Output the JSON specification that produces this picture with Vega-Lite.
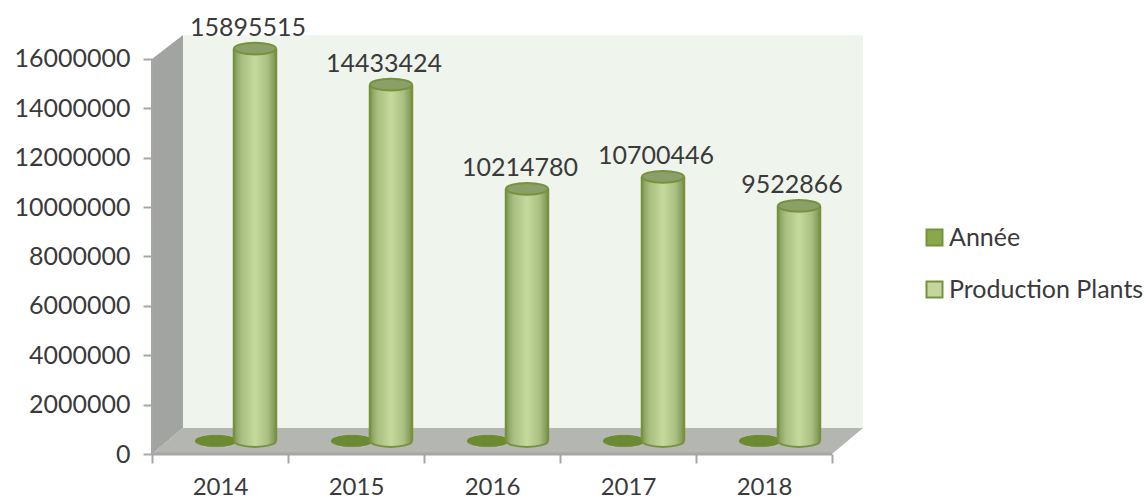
{
  "$schema": "https://vega.github.io/schema/vega-lite/v6.json",
  "width": 711,
  "height": 419,
  "autosize": "none",
  "padding": {"left": 152, "top": 35, "right": 283, "bottom": 45},
  "background": "white",
  "config": {
    "view": {"stroke": null},
    "font": "Lato",
    "scale": {"continuousPadding": 0},
    "axis": {"grid": false, "title": null, "labelFont": "Lato", "labelFontSize": 25, "labelColor": "#3a3a3a", "tickColor": "#a6a6a6", "tickWidth": 2, "tickSize": 9, "domain": false}
  },
  "datasets": {
    "production": [
      {"year": 2014, "series": "Année", "value": 2014},
      {"year": 2015, "series": "Année", "value": 2015},
      {"year": 2016, "series": "Année", "value": 2016},
      {"year": 2017, "series": "Année", "value": 2017},
      {"year": 2018, "series": "Année", "value": 2018},
      {"year": 2014, "series": "Production Plants", "value": 15895515},
      {"year": 2015, "series": "Production Plants", "value": 14433424},
      {"year": 2016, "series": "Production Plants", "value": 10214780},
      {"year": 2017, "series": "Production Plants", "value": 10700446},
      {"year": 2018, "series": "Production Plants", "value": 9522866}
    ],
    "backWall": [
      {"year": 2013.728, "value": 1053000, "value2": 16970000},
      {"year": 2018.728, "value": 1053000, "value2": 16970000}
    ],
    "sideWall": [
      {"year": 2013.5, "value": 0, "value2": 16000000},
      {"year": 2013.728, "value": 1053000, "value2": 16970000}
    ],
    "floor": [
      {"year": 2013.5, "value": 0, "value2": 0},
      {"year": 2013.728, "value": 0, "value2": 1053000},
      {"year": 2018.5, "value": 0, "value2": 1053000},
      {"year": 2018.728, "value": 1053000, "value2": 1053000}
    ]
  },
  "encoding": {
    "x": {"field": "year", "type": "quantitative", "axis": null, "scale": {"domain": [2013.5, 2018.728], "nice": false, "zero": false}},
    "y": {"field": "value", "type": "quantitative", "axis": null, "stack": null, "scale": {"domain": [0, 16970000], "nice": false, "zero": false}}
  },
  "layer": [
    {
      "data": {"name": "backWall"},
      "mark": {"type": "area", "color": "#eff4ec", "clip": false},
      "encoding": {"y2": {"field": "value2"}}
    },
    {
      "data": {"name": "sideWall"},
      "mark": {"type": "area", "color": "#a2a4a2"},
      "encoding": {"y2": {"field": "value2"}}
    },
    {
      "data": {"name": "floor"},
      "mark": {"type": "area", "color": "#b4b6b1"},
      "encoding": {"y2": {"field": "value2"}}
    },
    {
      "description": "Front edge of the floor, carrying the category ticks at band boundaries",
      "data": {"values": [{"year": 2013.5, "end": 2018.5, "value": 0}]},
      "mark": {"type": "rule", "color": "#a6a6a6", "strokeWidth": 3},
      "encoding": {
        "x": {"field": "year", "type": "quantitative", "scale": {"domain": [2013.5, 2018.728], "nice": false, "zero": false},
          "axis": {"values": [2013.5, 2014.5, 2015.5, 2016.5, 2017.5, 2018.5], "labels": false, "orient": "bottom"}},
        "x2": {"field": "end"}
      }
    },
    {
      "description": "Vertical axis line with value ticks and labels",
      "data": {"values": [{"year": 2013.5, "value": 0, "top": 16000000}]},
      "mark": {"type": "rule", "color": "#a6a6a6", "strokeWidth": 2},
      "encoding": {
        "y": {"field": "value", "type": "quantitative", "stack": null, "scale": {"domain": [0, 16970000], "nice": false, "zero": false},
          "axis": {"values": [0, 2000000, 4000000, 6000000, 8000000, 10000000, 12000000, 14000000, 16000000], "format": "d", "labelPadding": 13}},
        "y2": {"field": "top"}
      }
    },
    {
      "description": "Flat series colours, which also feed the legend",
      "data": {"name": "production"},
      "mark": {"type": "point", "filled": true, "opacity": 1, "size": 1764, "shape": "M-1,0A1,0.28 0 1,1 1,0A1,0.28 0 1,1 -1,0Z", "xOffset": -4, "yOffset": -13},
      "transform": [{"filter": "datum.series === 'Année'"}],
      "encoding": {
        "color": {"field": "series", "type": "nominal",
          "scale": {"domain": ["Année", "Production Plants"], "range": ["#8aa84a", "#c3d69b"]},
          "legend": {"title": null, "orient": "none", "legendX": 770, "legendY": 190, "symbolType": "square", "symbolSize": 256, "symbolStrokeColor": "#76923c", "symbolStrokeWidth": 2, "symbolOpacity": 1, "labelFont": "Lato", "labelFontSize": 25, "labelColor": "#3a3a3a", "labelOffset": 2, "rowPadding": 26, "labelLimit": 260}}
      }
    },
    {
      "data": {"name": "production"},
      "mark": {"type": "point", "filled": true, "opacity": 1, "size": 1764, "shape": "M-1,0A1,0.28 0 1,1 1,0A1,0.28 0 1,1 -1,0Z", "color": "#6c8a32", "xOffset": -4, "yOffset": -13},
      "transform": [{"filter": "datum.series === 'Année'"}]
    },
    {
      "description": "Cylinder base",
      "data": {"name": "production"},
      "mark": {"type": "point", "filled": true, "opacity": 1, "size": 1764, "shape": "M-1,0A1,0.28 0 1,1 1,0A1,0.28 0 1,1 -1,0Z", "xOffset": 35, "yOffset": -13, "stroke": "#76923c", "strokeWidth": 2, "fill": {"gradient": "linear", "x1": 0, "x2": 1, "y1": 0, "y2": 0, "stops": [{"offset": 0, "color": "#84995a"}, {"offset": 0.18, "color": "#a8bf80"}, {"offset": 0.5, "color": "#c5d99d"}, {"offset": 0.8, "color": "#a9bf80"}, {"offset": 1, "color": "#7c9250"}]}},
      "transform": [{"filter": "datum.series === 'Production Plants'"}],
      "encoding": {"y": {"datum": 0, "type": "quantitative", "axis": null, "scale": {"domain": [0, 16970000], "nice": false, "zero": false}}}
    },
    {
      "description": "Cylinder body, filled without an outline so the base arc stays visible",
      "data": {"name": "production"},
      "mark": {"type": "bar", "size": 42, "xOffset": 35, "x2Offset": 35, "yOffset": -13, "y2Offset": -13, "fill": {"gradient": "linear", "x1": 0, "x2": 1, "y1": 0, "y2": 0, "stops": [{"offset": 0, "color": "#84995a"}, {"offset": 0.18, "color": "#a8bf80"}, {"offset": 0.5, "color": "#c5d99d"}, {"offset": 0.8, "color": "#a9bf80"}, {"offset": 1, "color": "#7c9250"}]}},
      "transform": [{"filter": "datum.series === 'Production Plants'"}],
      "encoding": {
        "x": {"field": "year", "type": "quantitative", "scale": {"domain": [2013.5, 2018.728], "nice": false, "zero": false},
          "axis": {"values": [2014, 2015, 2016, 2017, 2018], "format": "d", "ticks": false, "labelFontSize": 24, "labelPadding": 21, "orient": "bottom"}},
        "y2": {"datum": 0}
      }
    },
    {
      "description": "Cylinder left edge",
      "data": {"name": "production"},
      "mark": {"type": "rule", "color": "#76923c", "strokeWidth": 2.5, "xOffset": 14, "yOffset": -13, "y2Offset": -13},
      "transform": [{"filter": "datum.series === 'Production Plants'"}],
      "encoding": {"y2": {"datum": 0}}
    },
    {
      "description": "Cylinder right edge",
      "data": {"name": "production"},
      "mark": {"type": "rule", "color": "#76923c", "strokeWidth": 2.5, "xOffset": 56, "yOffset": -13, "y2Offset": -13},
      "transform": [{"filter": "datum.series === 'Production Plants'"}],
      "encoding": {"y2": {"datum": 0}}
    },
    {
      "description": "Cylinder top",
      "data": {"name": "production"},
      "mark": {"type": "point", "filled": true, "opacity": 1, "size": 1764, "shape": "M-1,0A1,0.28 0 1,1 1,0A1,0.28 0 1,1 -1,0Z", "color": "#8b9f68", "xOffset": 35, "yOffset": -13, "stroke": "#76923c", "strokeWidth": 2},
      "transform": [{"filter": "datum.series === 'Production Plants'"}]
    },
    {
      "data": {"name": "production"},
      "mark": {"type": "text", "font": "Lato", "fontSize": 25, "color": "#3a3a3a", "dx": 28, "dy": -34, "baseline": "middle", "align": "center"},
      "transform": [{"filter": "datum.series === 'Production Plants'"}],
      "encoding": {"text": {"field": "value", "type": "quantitative", "format": "d"}}
    }
  ],
  "resolve": {"axis": {"x": "independent", "y": "independent"}}
}
